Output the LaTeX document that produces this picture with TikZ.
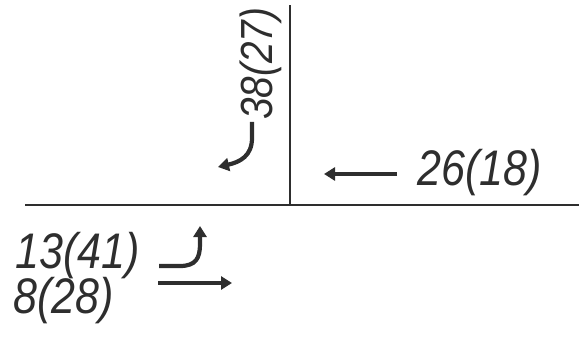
\documentclass[tikz,border=0pt]{standalone}
\usepackage{fontspec}
\setmainfont{Liberation Sans}[FakeStretch=0.86]
\definecolor{viaGris}{HTML}{2E2E2E}
\usetikzlibrary{arrows.meta,positioning}
\tikzset{
	volumen/.style={
		font=\fontsize{50}{50}\selectfont\itshape,
		text=viaGris,
		inner sep=0pt
	},
	borde/.style={
		line width=1.1pt,
		draw=viaGris
	},
	giro/.style={
		-{Triangle[length=11pt,width=13pt]},
		line width=4.2pt,
		viaGris
	}
}

\begin{document}
\begin{tikzpicture}[x=1pt,y=-1pt]
		\useasboundingbox (0,0) rectangle (588,339);
		% bordes de calzada
		\coordinate (oeste) at (25,205);
		\coordinate (este) at (579,205);
		\coordinate (cruce) at (290,205);
		\coordinate (norte) at (290,5);
		\draw[borde] (oeste) -- (este);
		\draw[borde] (cruce) -- (norte);
		% volumenes
		\node[volumen, font=\fontsize{45}{45}\selectfont\itshape, rotate=90, anchor=base west] (vNorte) at (272,120) {38(27)};
		\node[volumen, anchor=base west] (vEste) at (417,185) {26(18)};
		\node[volumen, anchor=base west] (vIzq) at (15,268) {13(41)};
		\node[volumen, anchor=base west] (vDir) at (13,313) {8(28)};
		% movimientos
		\coordinate (nIni) at (252,122);
		\coordinate (nFin) at (218,167);
		\coordinate (eIni) at (397,174);
		\coordinate (eFin) at (324,174);
		\coordinate (iIni) at (159,266);
		\coordinate (iFin) at (200,226);
		\coordinate (dIni) at (158,283);
		\coordinate (dFin) at (232,283);
		\draw[giro] (nIni) -- (252,138) .. controls (252,156) and (240,162) .. (nFin);
		\draw[giro] (eIni) -- (eFin);
		\draw[giro] (iIni) -- (180,266) .. controls (196,266) and (200,258) .. (200,244) -- (iFin);
		\draw[giro] (dIni) -- (dFin);
	\end{tikzpicture}
\end{document}
